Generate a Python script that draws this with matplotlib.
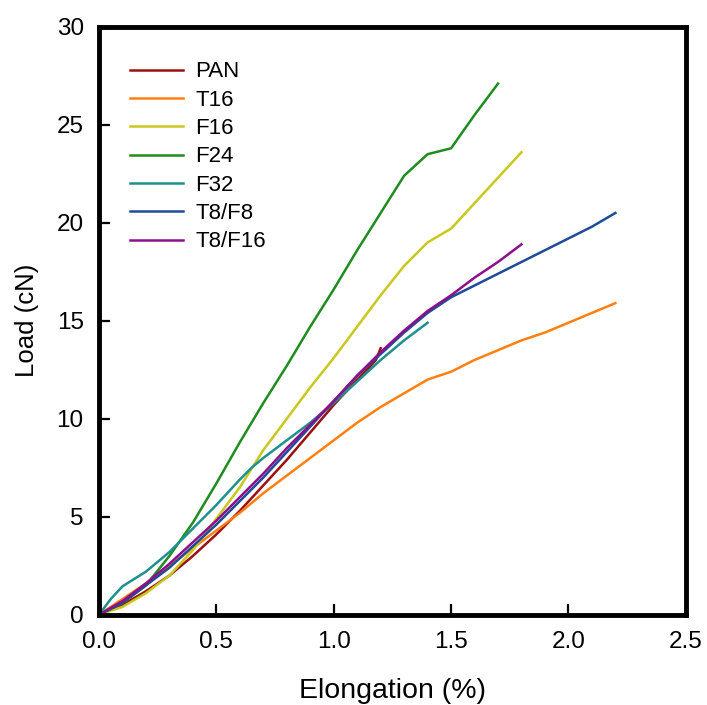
import matplotlib
matplotlib.use("Agg")
import matplotlib.pyplot as plt

plt.rcParams["font.family"] = ["Liberation Sans", "DejaVu Sans"]

# Load-elongation curves
pan_x = [0.0, 0.1, 0.2, 0.3, 0.4, 0.5, 0.6, 0.7, 0.8, 0.9, 1.0, 1.1, 1.15, 1.18, 1.2]
pan_y = [0.0, 0.5, 1.2, 2.0, 3.0, 4.1, 5.3, 6.6, 7.9, 9.3, 10.7, 12.0, 12.6, 13.0, 13.6]

t16_x = [0.0, 0.1, 0.2, 0.3, 0.4, 0.5, 0.6, 0.7, 0.8, 0.9, 1.0, 1.1, 1.2, 1.3, 1.4,
         1.5, 1.6, 1.7, 1.8, 1.9, 2.0, 2.1, 2.2]
t16_y = [0.0, 0.8, 1.6, 2.5, 3.4, 4.3, 5.2, 6.2, 7.1, 8.0, 8.9, 9.8, 10.6, 11.3, 12.0,
         12.4, 13.0, 13.5, 14.0, 14.4, 14.9, 15.4, 15.9]

f16_x = [0.0, 0.1, 0.2, 0.3, 0.4, 0.5, 0.6, 0.7, 0.8, 0.9, 1.0, 1.1, 1.2, 1.3, 1.4,
         1.5, 1.6, 1.7, 1.8]
f16_y = [0.0, 0.4, 1.1, 2.0, 3.3, 4.9, 6.5, 8.4, 10.0, 11.6, 13.1, 14.7, 16.3, 17.8, 19.0,
         19.7, 21.0, 22.3, 23.6]

f24_x = [0.0, 0.1, 0.2, 0.3, 0.4, 0.5, 0.6, 0.7, 0.8, 0.9, 1.0, 1.1, 1.2, 1.3, 1.4,
         1.5, 1.6, 1.7]
f24_y = [0.0, 0.6, 1.5, 3.0, 4.7, 6.7, 8.8, 10.8, 12.7, 14.7, 16.6, 18.6, 20.5, 22.4, 23.5,
         23.8, 25.5, 27.1]

f32_x = [0.0, 0.05, 0.1, 0.2, 0.3, 0.4, 0.5, 0.6, 0.65, 0.7, 0.8, 0.9, 1.0, 1.1, 1.2,
         1.3, 1.4]
f32_y = [0.0, 0.8, 1.45, 2.2, 3.2, 4.4, 5.6, 6.9, 7.5, 8.0, 8.9, 9.8, 10.8, 11.9, 13.0,
         14.0, 14.9]

t8f8_x = [0.0, 0.1, 0.2, 0.3, 0.4, 0.5, 0.6, 0.7, 0.8, 0.9, 1.0, 1.1, 1.2, 1.3, 1.4,
          1.5, 1.6, 1.7, 1.8, 1.9, 2.0, 2.1, 2.2]
t8f8_y = [0.0, 0.6, 1.5, 2.4, 3.5, 4.6, 5.8, 7.0, 8.3, 9.6, 10.9, 12.2, 13.3, 14.4, 15.4,
          16.2, 16.8, 17.4, 18.0, 18.6, 19.2, 19.8, 20.5]

t8f16_x = [0.0, 0.1, 0.2, 0.3, 0.4, 0.5, 0.6, 0.7, 0.8, 0.9, 1.0, 1.1, 1.2, 1.3, 1.4,
           1.5, 1.6, 1.7, 1.8]
t8f16_y = [0.0, 0.7, 1.6, 2.6, 3.7, 4.8, 6.0, 7.2, 8.5, 9.7, 10.9, 12.2, 13.4, 14.5, 15.5,
           16.3, 17.2, 18.0, 18.9]

series = [
    ("PAN", pan_x, pan_y, "#9B1010"),
    ("T16", t16_x, t16_y, "#FF8010"),
    ("F16", f16_x, f16_y, "#C8C81E"),
    ("F24", f24_x, f24_y, "#1E8C1E"),
    ("F32", f32_x, f32_y, "#1E9090"),
    ("T8/F8", t8f8_x, t8f8_y, "#1E4C96"),
    ("T8/F16", t8f16_x, t8f16_y, "#8C108C"),
]

fig = plt.figure(figsize=(7.07, 7.05), dpi=100)
ax = fig.add_axes([0.140, 0.128, 0.830, 0.834])

for name, xs, ys, col in series:
    ax.plot(xs, ys, color=col, lw=1.8, label=name)

ax.set_xlim(0, 2.5)
ax.set_ylim(0, 30)
ax.set_xticks([0.0, 0.5, 1.0, 1.5, 2.0, 2.5])
ax.set_xticklabels(["0.0", "0.5", "1.0", "1.5", "2.0", "2.5"])
ax.set_yticks([0, 5, 10, 15, 20, 25, 30])

ax.tick_params(direction="in", length=8, width=1.6, labelsize=17.5)
ax.tick_params(axis="x", pad=12)
ax.tick_params(axis="y", pad=11)
for spine in ax.spines.values():
    spine.set_linewidth(3.5)

ax.set_xlabel("Elongation (%)", fontsize=20.5, labelpad=18)
ax.set_ylabel("Load (cN)", fontsize=18.5, labelpad=13)

ax.legend(loc="upper left", bbox_to_anchor=(0.018, 0.975), frameon=False,
          fontsize=16, handlelength=2.4, handletextpad=0.55, labelspacing=0.33)

fig.savefig("out.png", dpi=100)
